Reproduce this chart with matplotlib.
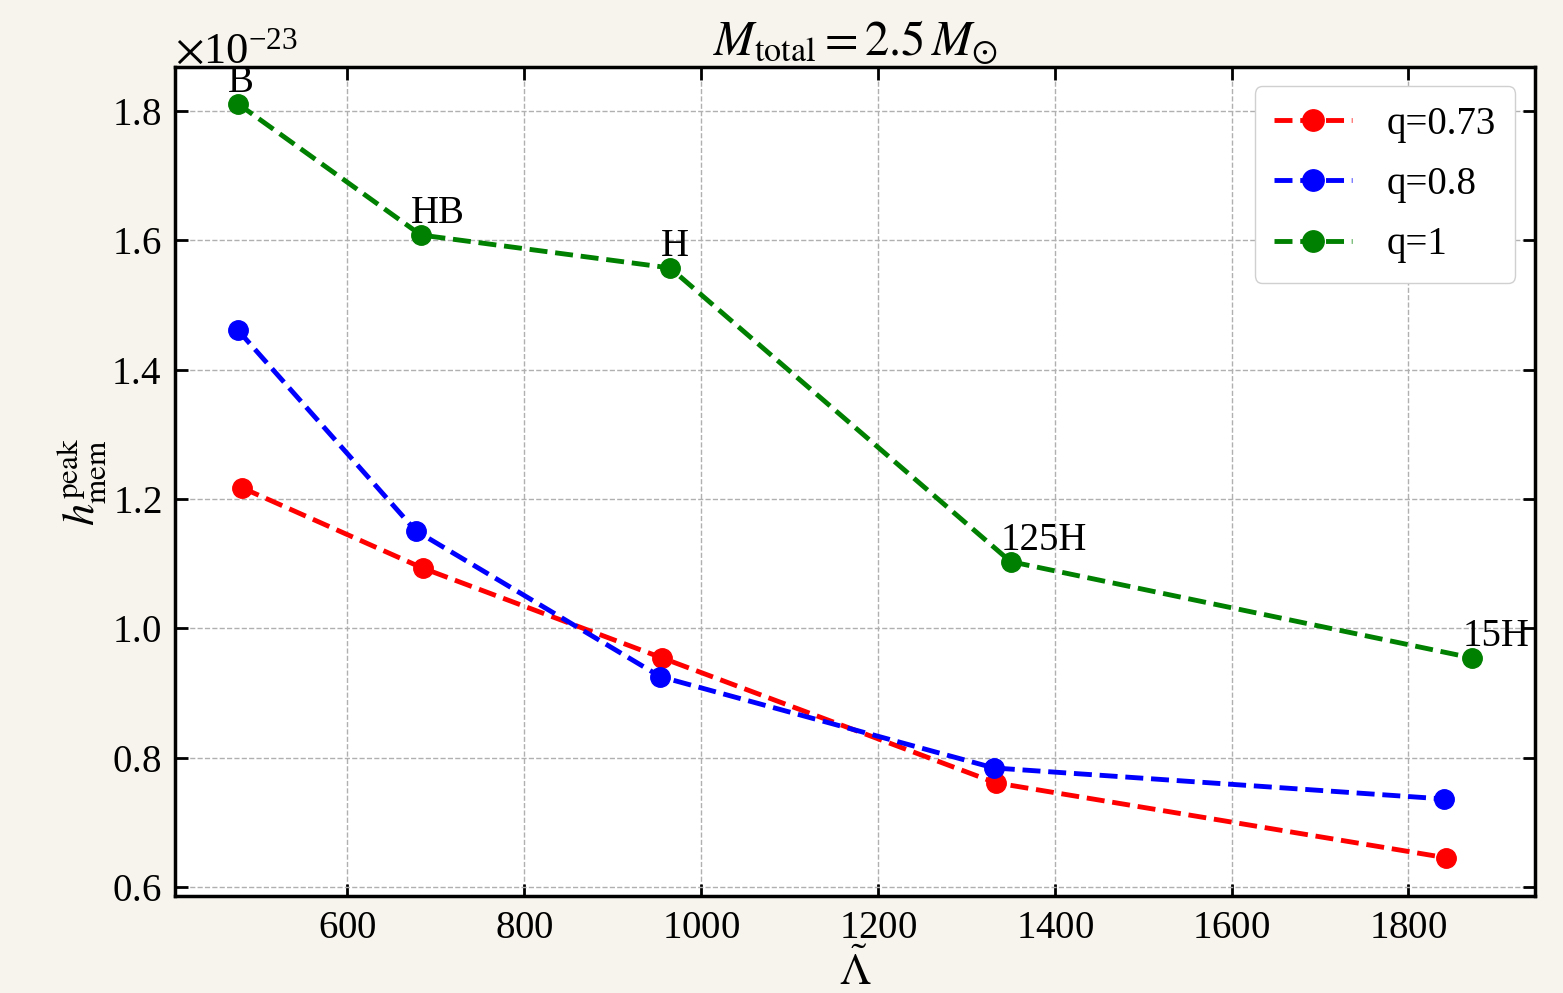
import numpy as np
import matplotlib.pyplot as plt

# data (h in units of 1e-23)
lam_q073 = [481, 685, 956, 1333, 1843]
h_q073 = [1.217, 1.093, 0.954, 0.761, 0.645]

lam_q08 = [476, 677, 954, 1331, 1840]
h_q08 = [1.461, 1.151, 0.925, 0.784, 0.736]

lam_q1 = [476, 683, 965, 1350, 1872]
h_q1 = [1.811, 1.608, 1.557, 1.103, 0.954]
eos_names = ['B', 'HB', 'H', '125H', '15H']

plt.rcParams['font.family'] = ['Liberation Serif', 'DejaVu Serif']
plt.rcParams['mathtext.fontset'] = 'stix'
plt.rcParams['axes.formatter.use_mathtext'] = True

bg = '#f7f4ed'
fig = plt.figure(figsize=(15.63, 9.93), dpi=100, facecolor=bg)
ax = fig.add_axes([0.112, 0.0977, 0.870, 0.835])

scale = 1e-23
ax.plot(lam_q073, np.array(h_q073) * scale, '--o', color='red', lw=3.5, ms=14, label='q=0.73')
ax.plot(lam_q08, np.array(h_q08) * scale, '--o', color='blue', lw=3.5, ms=14, label='q=0.8')
ax.plot(lam_q1, np.array(h_q1) * scale, '--o', color='green', lw=3.5, ms=14, label='q=1')

for x, y, name in zip(lam_q1, h_q1, eos_names):
    ax.annotate(name, (x, y * scale), xytext=(-7, 2), textcoords='offset points',
                ha='left', va='bottom', fontsize=28)

ax.set_xlim(405, 1943)
ax.set_ylim(0.586e-23, 1.868e-23)
ax.set_xticks([600, 800, 1000, 1200, 1400, 1600, 1800])
ax.set_yticks(np.array([0.6, 0.8, 1.0, 1.2, 1.4, 1.6, 1.8]) * scale)

ax.grid(True, ls='--', color='#b0b0b0', lw=1)
ax.tick_params(direction='in', top=True, right=True, length=9, width=2, labelsize=28, pad=10)
for s in ax.spines.values():
    s.set_linewidth(2.5)
ax.yaxis.get_offset_text().set_fontsize(32)

ax.set_xlabel(r'$\tilde{\Lambda}$', fontsize=32, labelpad=2)
ax.set_ylabel(r'$h_{\rm mem}^{\rm peak}$', fontsize=32, labelpad=2)
ax.set_title(r'$M_{\rm total} = 2.5\,M_{\odot}$', fontsize=35, pad=8)

leg = ax.legend(loc='upper right', fontsize=28, handlelength=2.0, borderpad=0.5,
                labelspacing=0.6, handletextpad=0.9, fancybox=True, framealpha=1,
                borderaxespad=0.5, markerscale=1.1)
leg.get_frame().set_edgecolor('#d0d0d0')

fig.savefig('out.png', dpi=100, facecolor=bg)
